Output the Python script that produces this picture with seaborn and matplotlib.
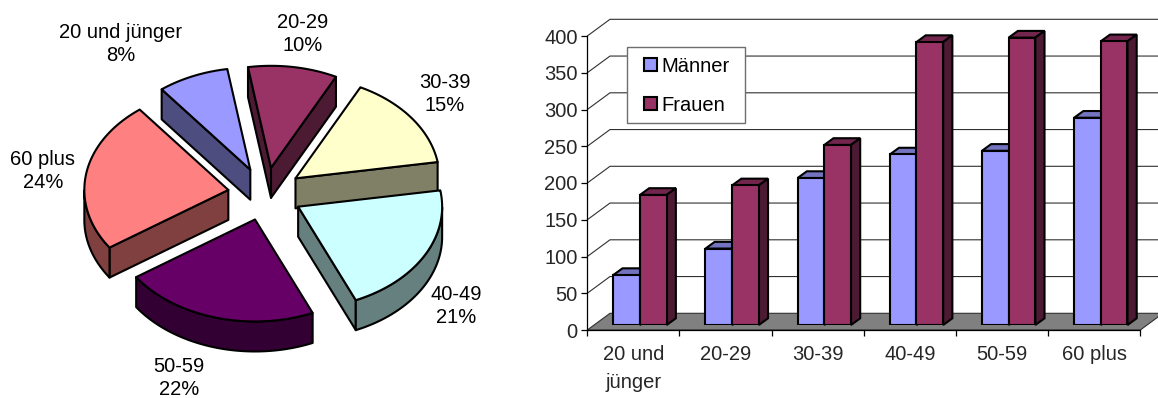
import numpy as np
import pandas as pd
import matplotlib
matplotlib.use("Agg")
import matplotlib.pyplot as plt
from matplotlib.patches import Polygon, Rectangle
from matplotlib.transforms import IdentityTransform
import seaborn as sns

# Altersgruppen und Werte
age_groups = ["20 und jünger", "20-29", "30-39", "40-49", "50-59", "60 plus"]
share_percent = [8, 10, 15, 21, 22, 24]
men = [68, 104, 200, 232, 237, 282]
women = [177, 190, 245, 385, 391, 386]
axis_labels = ["20 und\njünger", "20-29", "30-39", "40-49", "50-59", "60 plus"]

# Farben: Deckfläche, Seitenfläche
pie_top = ["#9999FF", "#993366", "#FFFFCC", "#CCFFFF", "#660066", "#FF8080"]
pie_side = ["#4D4D80", "#4D1A33", "#808066", "#668080", "#330033", "#804040"]
BAR_SHADES = {"Männer": ("#9999FF", "#7373BF", "#4D4D80"),
              "Frauen": ("#993366", "#73264D", "#4D1A33")}

W, H = 1158, 398
FONT = 14.5
sns.set_theme(style="white")
plt.rcParams["font.family"] = ["Liberation Sans", "DejaVu Sans"]
plt.rcParams["text.color"] = "black"

fig = plt.figure(figsize=(W / 100, H / 100), dpi=100, facecolor="white")

# Zeichenfläche in Pixelkoordinaten für Kuchen, Boden und Wände
canvas = fig.add_axes([0, 0, 1, 1], zorder=0)
canvas.set_xlim(0, W)
canvas.set_ylim(H, 0)
canvas.axis("off")

# --- 3D-Kuchen ---
CX, CY, RX, RY, DEPTH, EXPLODE = 265.3, 194.0, 144.0, 102.0, 30.0, 37.4
START = 128.0
EDGE = 1.5


def ring(t, ox, oy, dz=0.0):
    t = np.radians(t)
    return np.column_stack([ox + RX * np.cos(t), oy - RY * np.sin(t) + dz])


def face(points, color, z):
    canvas.add_patch(Polygon(points, closed=True, facecolor=color, edgecolor="black",
                             linewidth=EDGE, joinstyle="round", zorder=z))


bounds = START - np.cumsum([0] + share_percent) * 3.6
draw_order = [0, 1, 2, 5, 3, 4]
for rank, i in enumerate(draw_order):
    t0, t1 = bounds[i], bounds[i + 1]
    mid = np.radians((t0 + t1) / 2)
    ox = CX + EXPLODE * np.cos(mid)
    oy = CY - EXPLODE * RY / RX * np.sin(mid)
    apex = np.array([ox, oy])
    drop = np.array([0, DEPTH])
    z = 2 + rank
    # Schnittflächen, soweit sie zum Betrachter zeigen
    if np.cos(np.radians(t0)) < 0:
        p = ring(np.array([t0]), ox, oy)[0]
        face([apex, p, p + drop, apex + drop], pie_side[i], z)
    if np.cos(np.radians(t1)) > 0:
        p = ring(np.array([t1]), ox, oy)[0]
        face([apex, p, p + drop, apex + drop], pie_side[i], z)
    # Außenrand der vorderen Hälfte
    ts = np.linspace(t0, t1, 120)
    ts = ts[np.sin(np.radians(ts)) < 0]
    if ts.size > 1:
        face(np.vstack([ring(ts, ox, oy), ring(ts[::-1], ox, oy, DEPTH)]), pie_side[i], z)
    ts = np.linspace(t0, t1, 120)
    face(np.vstack([apex, ring(ts, ox, oy)]), pie_top[i], z + 0.5)

LABEL_XY = [(121, 44), (303, 34), (445, 94), (456, 306), (179, 378), (43, 171)]
for name, pct, (lx, ly) in zip(age_groups, share_percent, LABEL_XY):
    canvas.text(lx, ly, f"{name}\n{pct}%", ha="center", va="center", fontsize=FONT,
                linespacing=1.32, zorder=20)

# --- 3D-Säulen ---
X0, X1, Y0, Y400 = 587.3, 1140.3, 330.0, 36.0
WALL_DX, WALL_DY = 22.7, 16.7
PLANE_DX, PLANE_DY = 6.6, 5.0
BAR_DX, BAR_DY = 9.2, 6.7
y_ticks = list(range(0, 401, 50))

# Boden und Gitternetz
canvas.add_patch(Polygon([(X0, Y0), (X1, Y0), (X1 + WALL_DX, Y0 - WALL_DY), (X0 + WALL_DX, Y0 - WALL_DY)],
                         closed=True, facecolor="#808080", edgecolor="#303030", linewidth=0.8, zorder=1))
for v in y_ticks[1:]:
    yy = Y0 - (Y0 - Y400) * v / 400
    canvas.plot([X0, X0 + WALL_DX, W + 2], [yy, yy - WALL_DY, yy - WALL_DY],
                color="#303030", lw=0.8, zorder=1, solid_joinstyle="miter")

# Legendenrahmen über dem Gitternetz
canvas.add_patch(Rectangle((627, 46.7), 118, 76.6, facecolor="white", edgecolor="#6e6e6e",
                           linewidth=1.0, zorder=1.5))

# Achsen der vorderen Ebene
frame = fig.add_axes([X0 / W, (H - Y0) / H, (X1 - X0) / W, (Y0 - Y400) / H], zorder=1)
frame.patch.set_alpha(0)
frame.set_xlim(-0.5, 5.5)
frame.set_ylim(0, 400)
frame.set_yticks(y_ticks)
frame.set_xticks(range(6))
frame.set_xticklabels(axis_labels, fontsize=FONT, linespacing=1.6, va="top")
frame.set_xticks(np.arange(-0.5, 6, 1), minor=True)
frame.tick_params(axis="x", which="major", length=0, pad=11)
frame.tick_params(axis="x", which="minor", length=4.5, width=0.9, color="black", bottom=True)
frame.tick_params(axis="y", length=4.5, width=0.9, color="black", left=True, pad=2.5, labelsize=FONT)
for side in ("top", "right"):
    frame.spines[side].set_visible(False)
for side in ("left", "bottom"):
    frame.spines[side].set_color("black")
    frame.spines[side].set_linewidth(0.9)

# Säulen in der um die Tiefe versetzten Ebene
df = pd.DataFrame({
    "Alter": axis_labels * 2,
    "Anzahl": men + women,
    "Geschlecht": ["Männer"] * 6 + ["Frauen"] * 6,
})
bars = fig.add_axes([(X0 + PLANE_DX) / W, (H - Y0 + PLANE_DY) / H, (X1 - X0) / W, (Y0 - Y400) / H], zorder=2)
sns.barplot(data=df, x="Alter", y="Anzahl", hue="Geschlecht", order=axis_labels,
            palette={k: v[0] for k, v in BAR_SHADES.items()}, saturation=1, width=0.579,
            gap=0, errorbar=None, edgecolor="black", linewidth=EDGE, ax=bars)
bars.set_xlim(-0.5, 5.5)
bars.set_ylim(0, 400)
bars.patch.set_alpha(0)
handles, labels = bars.get_legend_handles_labels()
bars.axis("off")

for level, (container, series) in enumerate(zip(bars.containers, ["Männer", "Frauen"])):
    _, top_c, side_c = BAR_SHADES[series]
    for rect in container:
        rect.set_zorder(2 + 2 * level)
        (xl, yb), (xr, yt) = bars.transData.transform(
            [(rect.get_x(), 0), (rect.get_x() + rect.get_width(), rect.get_height())])
        for pts, col in (
            ([(xl, yt), (xr, yt), (xr + BAR_DX, yt + BAR_DY), (xl + BAR_DX, yt + BAR_DY)], top_c),
            ([(xr, yb), (xr + BAR_DX, yb + BAR_DY), (xr + BAR_DX, yt + BAR_DY), (xr, yt)], side_c),
        ):
            bars.add_patch(Polygon(pts, closed=True, facecolor=col, edgecolor="black", linewidth=EDGE,
                                   transform=IdentityTransform(), clip_on=False, zorder=1 + 2 * level))

leg = bars.legend(handles, labels, loc="upper left", bbox_to_anchor=(627 / W, 1 - 39.7 / H),
                  bbox_transform=fig.transFigure, borderaxespad=0, fontsize=FONT, frameon=False,
                  handlelength=0.66, handleheight=0.62, handletextpad=0.22, labelspacing=1.0,
                  borderpad=0.85, title=None)
leg.set_zorder(10)

fig.savefig("out.png", dpi=100, facecolor="white")
